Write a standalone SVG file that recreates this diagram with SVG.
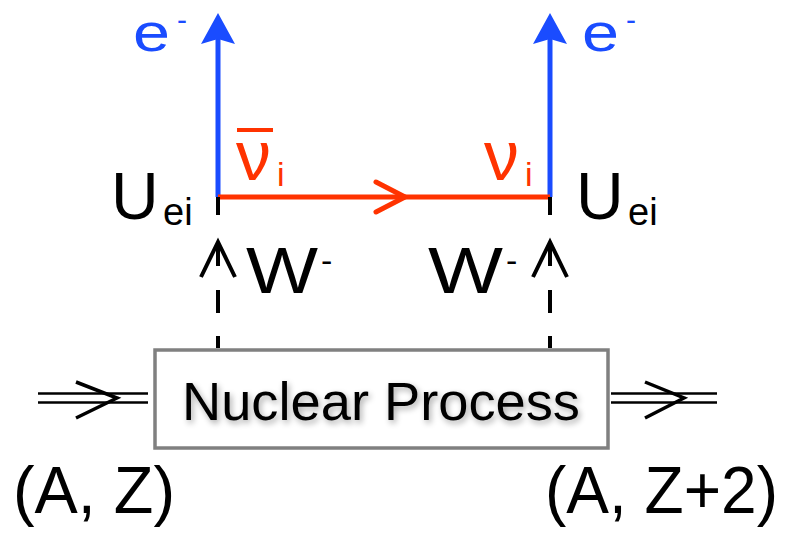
<svg xmlns="http://www.w3.org/2000/svg" width="788" height="533" viewBox="0 0 788 533">
<style>
text{font-family:"Liberation Sans","Open Sans",sans-serif;}
.k{fill:#000;}
.b{fill:#1a4cff;}
.r{fill:#ff3300;}
.blue{stroke:#1a4cff;stroke-width:5;fill:none;}
.red{stroke:#ff3300;stroke-width:5;fill:none;}
.blk{stroke:#000;stroke-width:4;fill:none;}
.dbl{stroke:#000;stroke-width:2.5;fill:none;}
</style>
<defs>
<filter id="sh" x="-10%" y="-30%" width="120%" height="160%">
<feGaussianBlur in="SourceAlpha" stdDeviation="3"/>
<feOffset dx="2" dy="3" result="o"/>
<feComponentTransfer><feFuncA type="linear" slope="0.35"/></feComponentTransfer>
<feMerge><feMergeNode/><feMergeNode in="SourceGraphic"/></feMerge>
</filter>
</defs>
<g id="connectors">
<line class="blue" x1="218" y1="197" x2="218" y2="36"/>
<path d="M218 13 L235 44 L218 39 L201 44 Z" fill="#1a4cff"/>
<line class="blue" x1="550" y1="197" x2="550" y2="36"/>
<path d="M550 13 L567 44 L550 39 L533 44 Z" fill="#1a4cff"/>
<line class="red" x1="218" y1="197" x2="550" y2="197"/>
<polyline class="red" points="376,182 405,197 376,212" stroke-linecap="round" stroke-linejoin="round"/>
<line class="blk" x1="218" y1="197" x2="218" y2="215"/>
<line class="blk" x1="550" y1="197" x2="550" y2="215"/>
<g>
<line class="blk" x1="218" y1="348" x2="218" y2="336"/>
<line class="blk" x1="218" y1="313" x2="218" y2="290"/>
<line class="blk" x1="218" y1="266" x2="218" y2="242"/>
<polyline class="blk" points="201,277 218,242 235,277"/>
<line class="blk" x1="550" y1="348" x2="550" y2="336"/>
<line class="blk" x1="550" y1="313" x2="550" y2="290"/>
<line class="blk" x1="550" y1="266" x2="550" y2="242"/>
<polyline class="blk" points="533,277 550,242 567,277"/>
</g>
<line class="dbl" x1="38" y1="393.5" x2="148" y2="393.5"/>
<line class="dbl" x1="38" y1="402.5" x2="148" y2="402.5"/>
<polyline points="76,382 117,398 76,418" fill="none" stroke="#000" stroke-width="3.5"/>
<line class="dbl" x1="611" y1="393.5" x2="717" y2="393.5"/>
<line class="dbl" x1="611" y1="402.5" x2="717" y2="402.5"/>
<polyline points="645,382 684,398 645,418" fill="none" stroke="#000" stroke-width="3.5"/>
</g>
<g id="nuclear-process">
<rect x="155" y="350" width="453" height="98" fill="#fff" stroke="#808080" stroke-width="3.5"/>
<text x="182" y="420" font-size="54" class="k" textLength="398" lengthAdjust="spacingAndGlyphs" filter="url(#sh)">Nuclear Process</text>
</g>
<g id="labels">
<text x="133" y="51" font-size="54" class="b" textLength="37" lengthAdjust="spacingAndGlyphs">e</text>
<text x="177" y="30" font-size="30" class="b">-</text>
<text x="582" y="51" font-size="54" class="b" textLength="37" lengthAdjust="spacingAndGlyphs">e</text>
<text x="626" y="30" font-size="30" class="b">-</text>
<line x1="237" y1="130" x2="273" y2="130" stroke="#ff3300" stroke-width="4"/>
<text x="236" y="180" font-size="70" class="r">ν</text>
<text x="277" y="186" font-size="34" class="r">i</text>
<text x="484" y="180" font-size="70" class="r">ν</text>
<text x="525" y="186" font-size="34" class="r">i</text>
<text x="111" y="219" font-size="66" class="k">U</text>
<text x="163" y="225" font-size="38" class="k">ei</text>
<text x="576" y="219" font-size="66" class="k">U</text>
<text x="628" y="225" font-size="38" class="k">ei</text>
<text x="246" y="293" font-size="64" class="k" textLength="72" lengthAdjust="spacingAndGlyphs">W</text>
<text x="321" y="272" font-size="34" class="k">-</text>
<text x="428" y="293" font-size="64" class="k" textLength="75" lengthAdjust="spacingAndGlyphs">W</text>
<text x="506" y="272" font-size="34" class="k">-</text>
<text x="13" y="513" font-size="66" class="k" textLength="162" lengthAdjust="spacingAndGlyphs">(A, Z)</text>
<text x="545" y="513" font-size="66" class="k" textLength="233" lengthAdjust="spacingAndGlyphs">(A, Z+2)</text>
</g>
</svg>
